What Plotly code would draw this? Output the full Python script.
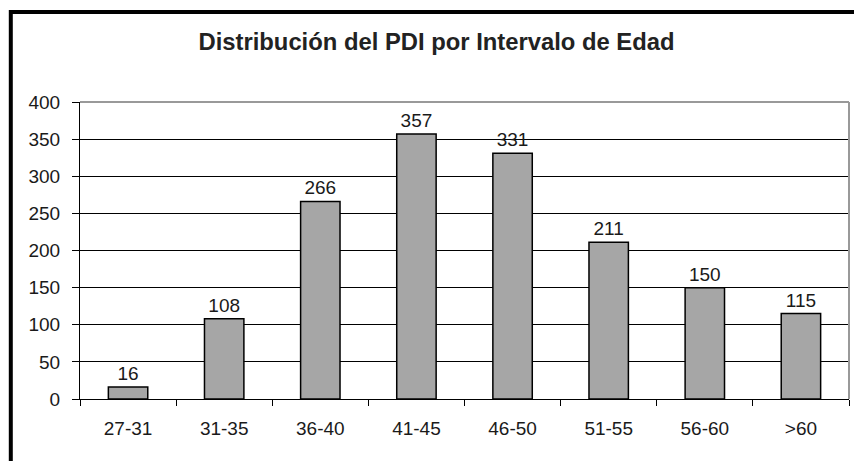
import plotly.graph_objects as go

categories = ["27-31", "31-35", "36-40", "41-45", "46-50", "51-55", "56-60", ">60"]
values = [16, 108, 266, 357, 331, 211, 150, 115]
title_text = "Distribución del PDI por Intervalo de Edad"

W, H = 854, 461
L, R, T, B = 80, 5, 102, 62
pw, ph = W - L - R, H - T - B
FONT = "Arial, Liberation Sans, sans-serif"

def px_x(p):
    return (p - L) / pw

def px_y(p):
    return (H - B - p) / ph

fig = go.Figure(go.Bar(
    x=categories, y=values,
    text=[str(v) for v in values], textposition="outside",
    textfont=dict(family=FONT, size=19, color="#1a1a1a"),
    marker=dict(color="#A6A6A6", line=dict(color="#000", width=1.5)),
    width=0.41, cliponaxis=False,
))

fig.update_layout(
    width=W, height=H,
    margin=dict(l=L, r=R, t=T, b=B),
    paper_bgcolor="white", plot_bgcolor="white",
    showlegend=False,
    uniformtext=dict(minsize=19, mode="show"),
    font=dict(family=FONT, size=19, color="#1a1a1a"),
    title=dict(text="<b>" + title_text + "</b>", xref="paper",
               x=px_x(436.5), xanchor="center",
               y=1 - 42 / H, yanchor="middle",
               font=dict(family=FONT, size=23.8, color="#222")),
    xaxis=dict(
        showgrid=False, showline=True, linecolor="#000", linewidth=1,
        ticks="outside", ticklen=6, tickcolor="#000", tickson="boundaries",
        tickfont=dict(size=19), range=[-0.5, 7.5], ticklabelstandoff=12,
    ),
    yaxis=dict(
        range=[0, 400], dtick=50, showgrid=True, gridcolor="#000", gridwidth=1,
        showline=True, linecolor="#000", linewidth=1,
        ticks="outside", ticklen=7, tickcolor="#000",
        tickfont=dict(size=19), zeroline=False, ticklabelstandoff=8,
    ),
    shapes=[
        dict(type="line", xref="paper", yref="paper", x0=0, x1=1, y0=1, y1=1,
             line=dict(color="#999", width=2), layer="above"),
        dict(type="line", xref="paper", yref="paper", x0=1, x1=1, y0=0, y1=1,
             line=dict(color="#999", width=2), layer="above"),
        dict(type="rect", xref="paper", yref="paper",
             x0=px_x(10.8), x1=px_x(W + 20), y0=px_y(H + 20), y1=px_y(12),
             line=dict(color="#000", width=4)),
    ],
)

fig.write_html(
    "out.html",
    config={"displayModeBar": False},
    post_script="document.body.style.margin='0';document.body.style.overflow='hidden';",
)
